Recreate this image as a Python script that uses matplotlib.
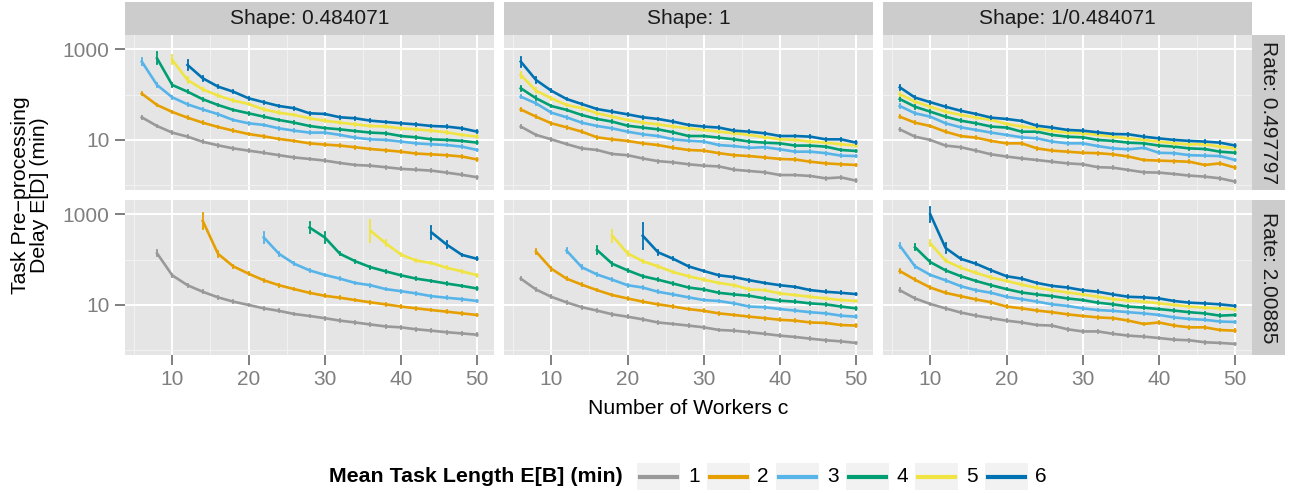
import numpy as np
import matplotlib.pyplot as plt
from matplotlib.patches import Rectangle
from matplotlib.lines import Line2D
from matplotlib.ticker import NullFormatter

plt.rcParams['font.family'] = ['Liberation Sans', 'DejaVu Sans']

# ---- data ----
workers = [6, 8, 10, 12, 14, 16, 18, 20, 22, 24, 26, 28, 30, 32, 34, 36, 38, 40, 42, 44, 46, 48, 50]
task_len = ['1', '2', '3', '4', '5', '6']
colors = ['#999999', '#E69F00', '#56B4E9', '#009E73', '#F0E442', '#0072B2']
shapes = ['Shape: 0.484071', 'Shape: 1', 'Shape: 1/0.484071']
rates = ['Rate: 0.497797', 'Rate: 2.00885']

# rate 0.497797, shape 0.484071
start_r1_s1 = [6, 6, 6, 8, 10, 12]
delay_r1_s1 = [
    [31.5, 20.3, 14.5, 11.8, 9.1, 7.6, 6.5, 5.8, 5.2, 4.6, 4.1, 3.8, 3.5, 3.1, 2.8, 2.7, 2.5, 2.3, 2.2, 2.1, 1.9, 1.7, 1.5],
    [105, 59, 41.4, 31, 24, 19.3, 16, 13.5, 12, 10.5, 9.5, 8.4, 7.9, 7.5, 6.9, 6.3, 5.9, 5.5, 5.0, 4.8, 4.6, 4.3, 3.7],
    [535, 163, 87, 61, 47, 37, 27.5, 23.3, 21.4, 18, 16, 14.5, 14.5, 12.9, 11.2, 10.3, 10, 9.2, 8.4, 8.0, 7.7, 7.1, 6.0],
    [632, 163, 116, 79, 59, 46, 38.7, 32.6, 27.5, 24, 20.3, 18.3, 17.1, 15.7, 14.5, 14, 12.2, 11.4, 10.3, 10, 9.5, 8.7],
    [582, 210, 131, 95, 74, 62, 47, 40, 35.5, 30, 26.6, 24, 22, 20.3, 19.7, 18, 17.1, 16, 14.7, 12.9, 11.8],
    [451, 229, 150, 116, 83, 68, 56, 50, 38.7, 37.4, 31.6, 30, 26.6, 24.9, 23.3, 22, 20.3, 19.7, 18, 15.2],
]
err_r1_s1 = [[0.03, 0.03], [0.04, 0.03], [0.07, 0.05], [0.13, 0.05], [0.10, 0.06], [0.11, 0.05]]

# rate 2.00885, shape 0.484071
start_r2_s1 = [8, 14, 22, 28, 36, 44]
delay_r2_s1 = [
    [138, 45, 27.2, 19.5, 14.7, 11.8, 10, 8.4, 7.4, 6.3, 5.7, 5.1, 4.5, 4.1, 3.7, 3.35, 3.2, 2.9, 2.7, 2.5, 2.35, 2.2],
    [714, 134, 71, 49, 35, 27.2, 22.3, 18.5, 15.9, 14.4, 12.8, 11.4, 10.3, 9.2, 8.4, 7.7, 7.1, 6.5, 6.0],
    [309, 134, 81, 58, 46, 38, 30.5, 27.2, 22.3, 20.1, 17.9, 15.6, 14.4, 13.4, 12.2],
    [510, 309, 134, 92, 68, 55, 45, 38, 33.8, 29.6, 26.3, 23],
    [433, 229, 129, 95, 84, 66, 55, 45],
    [397, 214, 127, 104],
]
err_r2_s1 = [[0.065, 0.03], [0.18, 0.06], [0.12, 0.05], [0.12, 0.13], [0.24, 0.07], [0.14, 0.08]]

# rate 0.497797, shape 1
start_r1_s2 = [6, 6, 6, 6, 6, 6]
delay_r1_s2 = [
    [19.7, 12.9, 10.3, 8.1, 6.5, 6.0, 4.9, 4.6, 3.9, 3.4, 3.2, 2.9, 2.7, 2.6, 2.2, 2.06, 1.93, 1.68, 1.68, 1.6, 1.42, 1.49, 1.26],
    [47, 32.6, 23.3, 19, 15.2, 11.4, 10.3, 9.5, 8.4, 7.7, 6.7, 6.0, 5.8, 5.1, 4.6, 4.4, 4.1, 3.8, 3.7, 3.3, 3.04, 2.9, 2.8],
    [90, 64, 40, 31.6, 24, 20.3, 18, 15.2, 13.3, 12.2, 10.3, 9.6, 9.2, 7.7, 7.3, 6.7, 6.9, 6.2, 5.5, 5.5, 5.1, 4.5, 4.4],
    [138, 83, 56, 46, 35.5, 29, 25.3, 20.6, 18.7, 17.1, 14.7, 12.2, 12.2, 11.2, 10.3, 9.2, 8.7, 8.4, 7.5, 7.5, 7.1, 6.0, 5.7],
    [271, 122, 83, 59, 50, 38.7, 32.6, 27.5, 24, 22, 19.7, 18, 16.6, 15.2, 14, 12.9, 11.4, 10.3, 10, 9.2, 8.7, 8.0, 7.5],
    [535, 210, 122, 80, 62, 48, 42, 36.7, 31.6, 29, 25.3, 21.4, 19.7, 18.7, 16, 15.2, 14, 12.2, 12.2, 11.8, 10.3, 10.3, 8.7],
]
err_r1_s2 = [[0.03, 0.03], [0.04, 0.03], [0.04, 0.03], [0.05, 0.04], [0.07, 0.05], [0.11, 0.06]]

# rate 2.00885, shape 1
start_r2_s2 = [6, 8, 12, 16, 18, 22]
delay_r2_s2 = [
    [38, 21.9, 15.1, 11.4, 8.9, 7.5, 6.2, 5.5, 4.8, 4.1, 3.8, 3.5, 3.2, 2.8, 2.7, 2.5, 2.3, 2.1, 1.96, 1.8, 1.66, 1.57, 1.45],
    [150, 63, 38, 28, 21.2, 16.5, 13.9, 11.8, 10.3, 9.2, 8.1, 7.4, 6.5, 6.0, 5.5, 5.1, 4.7, 4.5, 4.1, 4.0, 3.6, 3.5],
    [158, 68, 47, 36, 27.2, 24.2, 19.5, 17, 14.7, 12.8, 12.2, 10.8, 9.2, 8.9, 8.1, 7.5, 6.9, 6.5, 5.8, 5.5],
    [163, 81, 58, 43, 36, 29.6, 24.2, 21.9, 18.5, 17, 15.9, 13.9, 12.4, 11.8, 10.8, 10.3, 9.2, 8.4],
    [336, 138, 92, 71, 53, 43, 36, 30.5, 27.2, 21.9, 21.2, 17.9, 16.5, 15.1, 13.9, 12.8, 12.2],
    [336, 145, 104, 71, 56, 45, 41, 35, 30.5, 27.2, 25, 21.2, 19.5, 18.5, 17.3],
]
err_r2_s2 = [[0.04, 0.03], [0.06, 0.04], [0.06, 0.04], [0.08, 0.04], [0.13, 0.05], [0.29, 0.06]]

# rate 0.497797, shape 1/0.484071
start_r1_s3 = [6, 6, 6, 6, 6, 6]
delay_r1_s3 = [
    [17.1, 11.8, 10, 7.5, 6.9, 5.8, 4.8, 4.3, 3.9, 3.6, 3.3, 3.04, 2.9, 2.5, 2.44, 2.17, 1.93, 1.9, 1.77, 1.63, 1.55, 1.42, 1.2],
    [32.6, 24, 20.3, 15.2, 12.2, 11.2, 9.5, 8.4, 8.4, 6.5, 5.8, 5.5, 5.2, 5.1, 4.8, 4.3, 3.6, 3.5, 3.4, 3.3, 2.8, 3.04, 2.44],
    [56, 38.7, 32.6, 23.3, 19, 16.6, 14.5, 12.9, 11.4, 10.8, 9.2, 8.4, 8.4, 7.3, 6.5, 6.2, 6.7, 5.2, 5.1, 4.6, 4.5, 4.4, 3.6],
    [80, 54, 42, 32.6, 26.6, 23.3, 19.7, 18.7, 15.2, 15.2, 12.9, 11.8, 11.4, 10, 9.5, 8.7, 8.4, 7.5, 7.1, 6.5, 6.3, 5.5, 5.2],
    [102, 70, 54, 42, 35.5, 31, 27.5, 22.5, 19.7, 18, 15.7, 14.5, 14, 12.9, 11.8, 10.8, 10, 9.2, 8.4, 8.0, 8.0, 7.1, 6.5],
    [145, 86, 68, 54, 44, 37.4, 31, 29, 26.2, 20.6, 18.7, 16.6, 16, 14.7, 13.5, 13.3, 11.8, 10.8, 10, 9.5, 9.2, 8.7, 7.5],
]
err_r1_s3 = [[0.03, 0.03], [0.04, 0.03], [0.04, 0.03], [0.05, 0.04], [0.05, 0.04], [0.06, 0.04]]

# rate 2.00885, shape 1/0.484071
start_r2_s3 = [6, 6, 6, 8, 10, 10]
delay_r2_s3 = [
    [21.1, 13.9, 10.5, 8.4, 6.8, 5.8, 5.1, 4.5, 4.1, 3.6, 3.5, 2.9, 2.6, 2.6, 2.3, 2.1, 2.0, 1.86, 1.71, 1.66, 1.5, 1.45, 1.38],
    [56, 36, 24.2, 18.5, 15.6, 13.2, 11.4, 9.2, 8.4, 7.5, 6.9, 6.2, 5.7, 5.3, 5.1, 4.5, 3.8, 4.1, 3.5, 3.2, 3.2, 2.8, 2.7],
    [203, 71, 46, 35, 25.9, 21.1, 18.5, 15.1, 13.4, 11.8, 10.3, 9.5, 8.4, 7.7, 7.4, 6.9, 6.5, 6.0, 5.3, 4.9, 4.7, 4.3, 4.2],
    [187, 88, 58, 43, 33.8, 27.2, 22.3, 18.8, 17, 15.6, 13.9, 12.8, 11.2, 10.3, 9.2, 8.7, 8.1, 7.5, 6.9, 6.5, 5.8, 6.0],
    [229, 95, 66, 51, 40, 33.8, 28, 23.8, 21.1, 18.8, 17, 15.1, 13.4, 12.4, 11.8, 10.8, 10, 9.2, 8.7, 8.4, 8.0],
    [1000, 181, 104, 81, 58, 43, 38, 30.5, 26.3, 24.2, 21.1, 19.5, 17, 15.1, 14.7, 13.9, 12.2, 11.2, 10.8, 10.3, 9.5],
]
err_r2_s3 = [[0.04, 0.03], [0.05, 0.03], [0.06, 0.04], [0.07, 0.04], [0.07, 0.04], [0.16, 0.11]]

err_default = 0.03   # half-width (decades) of the small bars on later points

x_ticks = [10, 20, 30, 40, 50]
y_ticks = [10, 1000]
y_tick_labels = ['10', '1000']

panels = [
    [(start_r1_s1, delay_r1_s1, err_r1_s1), (start_r1_s2, delay_r1_s2, err_r1_s2), (start_r1_s3, delay_r1_s3, err_r1_s3)],
    [(start_r2_s1, delay_r2_s1, err_r2_s1), (start_r2_s2, delay_r2_s2, err_r2_s2), (start_r2_s3, delay_r2_s3, err_r2_s3)],
]

# ---- layout (pixels) ----
W, H = 1293, 493
fig = plt.figure(figsize=(W / 100, H / 100), dpi=100)


def box(l, t, w, h):
    return [l / W, 1 - (t + h) / H, w / W, h / H]


col_left = [125, 504, 883]
row_top = [35, 200]
pw, ph = 369, 155
tick_grey = '#7F7F7F'

for r in range(2):
    for c in range(3):
        ax = fig.add_axes(box(col_left[c], row_top[r], pw, ph))
        ax.set_facecolor('#E5E5E5')
        ax.set_yscale('log')
        ax.set_xlim(3.8, 52.2)
        ax.set_ylim(10 ** -0.105, 10 ** 3.315)
        ax.set_xticks(x_ticks)
        ax.set_xticks([5, 15, 25, 35, 45], minor=True)
        ax.set_yticks(y_ticks)
        ax.set_yticks([1, 100], minor=True)
        ax.set_yticklabels(y_tick_labels)
        ax.yaxis.set_minor_formatter(NullFormatter())
        ax.xaxis.set_minor_formatter(NullFormatter())
        ax.grid(True, which='major', color='white', lw=1.4)
        ax.grid(True, which='minor', color='#F2F2F2', lw=0.7)
        ax.set_axisbelow(True)
        for s in ax.spines.values():
            s.set_visible(False)
        ax.tick_params(which='minor', length=0)
        ax.tick_params(which='major', length=7, width=1.4, color=tick_grey,
                       labelcolor=tick_grey, labelsize=15, pad=4)
        if c != 0:
            ax.tick_params(axis='y', length=0, labelleft=False)
        if r != 1:
            ax.tick_params(axis='x', length=0, labelbottom=False)

        starts, delays, errs = panels[r][c]
        for i in range(6):
            xs = workers[workers.index(starts[i]):]
            ys = np.array(delays[i], dtype=float)
            half = np.full(len(ys), err_default)
            half[0] = errs[i][0]
            if len(ys) > 1:
                half[1] = errs[i][1]
            lo = ys - ys / 10 ** half
            hi = ys * 10 ** half - ys
            ax.errorbar(xs, ys, yerr=[lo, hi], color=colors[i], lw=1.9,
                        elinewidth=1.3, capsize=1.0, capthick=1.2, zorder=3 + i)

        # strips
        if r == 0:
            sax = fig.add_axes(box(col_left[c], 2, pw, 33))
            sax.set_facecolor('#CCCCCC')
            sax.set_xticks([]); sax.set_yticks([])
            for s in sax.spines.values():
                s.set_visible(False)
            sax.text(0.5, 0.5, shapes[c], ha='center', va='center', fontsize=15, color='#1A1A1A',
                     transform=sax.transAxes)
        if c == 2:
            sax = fig.add_axes(box(1252, row_top[r], 33, ph))
            sax.set_facecolor('#CCCCCC')
            sax.set_xticks([]); sax.set_yticks([])
            for s in sax.spines.values():
                s.set_visible(False)
            sax.text(0.5, 0.5, rates[r], ha='center', va='center', fontsize=15, color='#1A1A1A',
                     rotation=-90, transform=sax.transAxes)

# axis titles
fig.text(688 / W, 1 - 408 / H, 'Number of Workers c', ha='center', va='center', fontsize=15.3)
fig.text(30 / W, 1 - 195 / H, 'Task Pre\u2212processing\nDelay E[D] (min)', ha='center', va='center',
         rotation=90, fontsize=15.3, linespacing=1.0)

# legend
fig.text(623 / W, 1 - 477 / H, 'Mean Task Length E[B] (min)', ha='right', va='center',
         fontsize=15.4, fontweight='bold')
for i in range(6):
    kx = 637 + i * 69.5
    fig.patches.append(Rectangle((kx / W, 1 - 490 / H), 43 / W, 27 / H, transform=fig.transFigure,
                                 facecolor='#F2F2F2', edgecolor='none'))
    fig.lines.append(Line2D([(kx + 3) / W, (kx + 40) / W], [1 - 477 / H, 1 - 477 / H],
                            transform=fig.transFigure, color=colors[i], lw=3))
    fig.text((kx + 51) / W, 1 - 477 / H, task_len[i], ha='left', va='center', fontsize=15)

fig.savefig('out.png', dpi=100)
